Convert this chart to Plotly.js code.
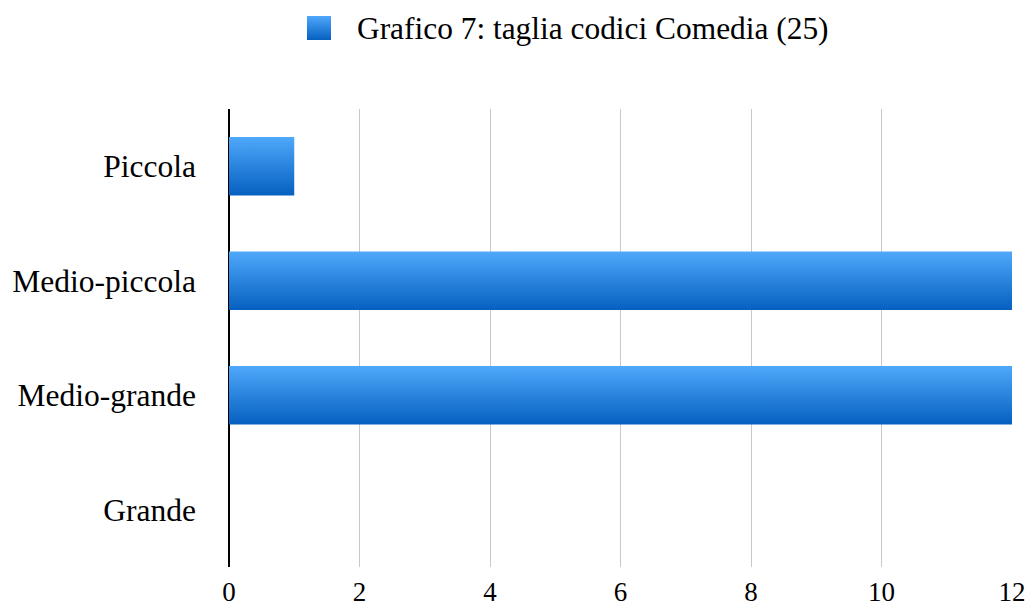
<!DOCTYPE html>
<html><head><meta charset="utf-8">
<script src="https://cdn.plot.ly/plotly-3.0.1.min.js"></script>
<style>html,body{margin:0;padding:0;background:#fff}#chart{width:1031px;height:606px}</style>
</head><body><div id="chart"></div>
<script>
var categories = ["Piccola", "Medio-piccola", "Medio-grande", "Grande"];
var values = [1, 12, 12, 0];
var seriesName = "Grafico 7: taglia codici Comedia (25)";
var xTicks = [0, 2, 4, 6, 8, 10, 12];

var FONT = "Liberation Serif, Times New Roman, serif";

var trace = {
  type: "bar", orientation: "h",
  y: categories, x: values, name: seriesName,
  marker: {color: "#2a83dc", line: {width: 0}},
  showlegend: false, hoverinfo: "x+y"
};

var layout = {
  width: 1031, height: 606,
  margin: {l: 229, r: 19, t: 109, b: 39},
  paper_bgcolor: "#fff", plot_bgcolor: "#fff",
  font: {family: FONT, color: "#000"},
  bargap: 0.49,
  xaxis: {
    range: [0, 12], tickvals: xTicks, ticktext: xTicks.map(String),
    showgrid: true, gridcolor: "#c8c8c8", gridwidth: 1,
    zeroline: true, zerolinecolor: "#000", zerolinewidth: 2.5,
    showline: false, ticks: "", tickfont: {size: 27, family: FONT},
    ticklabelstandoff: 6, fixedrange: true
  },
  yaxis: {
    type: "category", categoryorder: "array", categoryarray: categories,
    autorange: "reversed", showgrid: false, zeroline: false, showline: false,
    ticks: "", tickfont: {size: 31.5, family: FONT}, ticklabelstandoff: 32,
    fixedrange: true
  },
  shapes: [{
    type: "rect", xref: "paper", yref: "paper",
    x0: (307 - 229) / 783, x1: (331 - 229) / 783,
    y0: (567 - 40) / 458, y1: (567 - 16) / 458,
    fillcolor: "#2a83dc", line: {width: 0}, layer: "above"
  }],
  annotations: [{
    xref: "paper", yref: "paper",
    x: (355 - 229) / 783, y: (567 - 28) / 458,
    xanchor: "left", yanchor: "middle", showarrow: false,
    text: seriesName, font: {size: 31.4, family: FONT, color: "#000"}
  }]
};

function applyGradient(gd) {
  var svg = gd.querySelector("svg.main-svg");
  if (!svg) return;
  var ns = "http://www.w3.org/2000/svg";
  var defs = svg.querySelector("defs");
  if (!svg.querySelector("#barGrad")) {
    var g = document.createElementNS(ns, "linearGradient");
    g.setAttribute("id", "barGrad");
    g.setAttribute("x1", "0"); g.setAttribute("y1", "0");
    g.setAttribute("x2", "0"); g.setAttribute("y2", "1");
    [["0%", "#4fa8fa"], ["100%", "#0560c0"]].forEach(function (s) {
      var st = document.createElementNS(ns, "stop");
      st.setAttribute("offset", s[0]); st.setAttribute("stop-color", s[1]);
      g.appendChild(st);
    });
    defs.appendChild(g);
  }
  gd.querySelectorAll(".trace.bars .point path").forEach(function (p) {
    p.style.fill = "url(#barGrad)";
  });
  gd.querySelectorAll(".shapelayer path").forEach(function (p) {
    p.style.fill = "url(#barGrad)";
    p.style.fillOpacity = 1;
  });
}

var gd = document.getElementById("chart");
Plotly.newPlot(gd, [trace], layout, {displayModeBar: false, staticPlot: true}).then(function () {
  applyGradient(gd);
});
</script></body></html>
